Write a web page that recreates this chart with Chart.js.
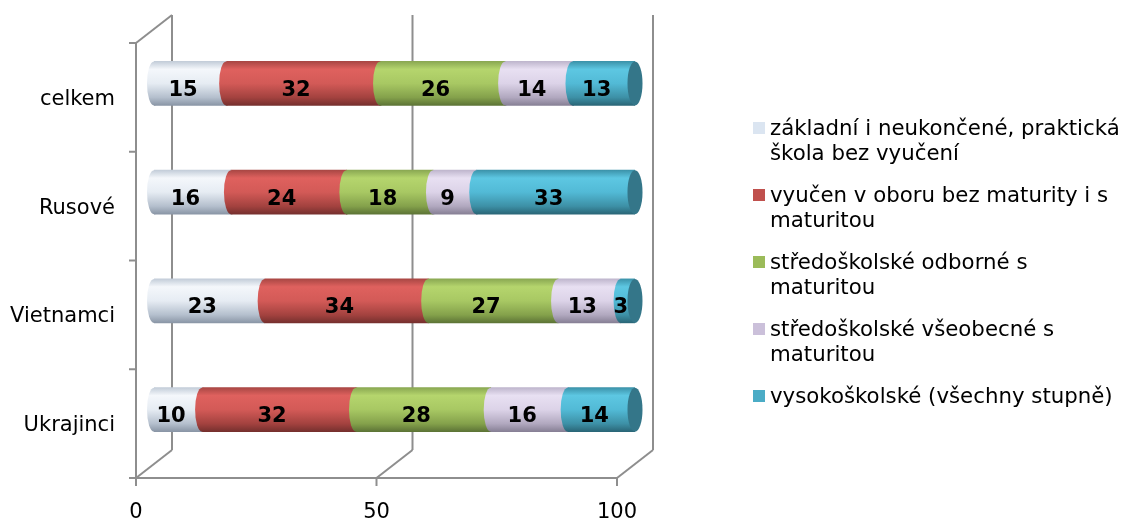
<!DOCTYPE html>
<html>
<head>
<meta charset="utf-8">
<script src="https://cdn.jsdelivr.net/npm/chart.js@4/dist/chart.umd.min.js"></script>
<style>
  html, body { margin: 0; padding: 0; background: #fff; }
  #wrap { position: relative; width: 1125px; height: 522px; overflow: hidden; }
  #legend {
    position: absolute; left: 753px; top: 116px;
    font-family: 'DejaVu Sans', Verdana, sans-serif;
    font-size: 21.3px; line-height: 24.5px; color: #000;
  }
  .item { position: relative; padding-left: 17px; width: 360px; margin-bottom: 18px; white-space: normal; }
  .sw { position: absolute; left: 0; top: 6px; width: 12px; height: 12px; }
</style>
</head>
<body>
<div id="wrap">
  <canvas id="c" width="1125" height="522"></canvas>
  <div id="legend"></div>
</div>
<script>
// Education structure by group (percent of each group)
const categories = ['celkem', 'Rusové', 'Vietnamci', 'Ukrajinci'];
const seriesNames = [
  'základní i neukončené, praktická škola bez vyučení',
  'vyučen v oboru bez maturity i s maturitou',
  'středoškolské odborné s maturitou',
  'středoškolské všeobecné s maturitou',
  'vysokoškolské (všechny stupně)'
];
const zakladni      = [15, 16, 23, 10];
const vyucen        = [32, 24, 34, 32];
const odborne       = [26, 18, 27, 28];
const vseobecne     = [14,  9, 13, 16];
const vysokoskolske = [13, 33,  3, 14];
const xTicks = [0, 50, 100];

const seriesValues = [zakladni, vyucen, odborne, vseobecne, vysokoskolske];

// flat swatch colours and cylinder shading (top -> bottom)
const flatColors = ['#dbe5f1', '#c0504d', '#9bbb59', '#cbc0da', '#4bacc6'];
const shadeStops = [
  [[0, '#c3cdd9'], [0.18, '#f4f7fb'], [0.5, '#e6ecf3'], [0.82, '#b4bfcd'], [1, '#8a96a6']],
  [[0, '#a94744'], [0.18, '#df615e'], [0.5, '#d35a57'], [0.82, '#a3423f'], [1, '#76302e']],
  [[0, '#8aa852'], [0.18, '#b5d56d'], [0.5, '#a8c863'], [0.82, '#84a14b'], [1, '#5d7436']],
  [[0, '#bfb6cd'], [0.18, '#e8e0f2'], [0.5, '#dcd3e8'], [0.82, '#b1a8bf'], [1, '#878095']],
  [[0, '#3c93aa'], [0.18, '#5dc7e2'], [0.5, '#52bad6'], [0.82, '#3d90a6'], [1, '#2a6677']]
];
const capColor = '#347689';
const frameColor = '#8e8e8e';
const BAR_H = 44;
const CAP_R = 7;
// depth offsets of the front and back planes relative to the bar plane
const FRONT = { dx: -18, dy: 14 };
const BACK  = { dx: 18,  dy: -14 };

function cylinderFill(ctx, stops, yc, h) {
  const g = ctx.createLinearGradient(0, yc - h / 2, 0, yc + h / 2);
  stops.forEach(([o, c]) => g.addColorStop(o, c));
  return g;
}

const datasets = seriesValues.map((vals, i) => ({
  label: seriesNames[i],
  data: vals,
  barThickness: BAR_H,
  borderWidth: 0,
  borderSkipped: false,
  backgroundColor: (c) => {
    const ch = c.chart;
    const ys = ch.scales && ch.scales.y;
    if (!ch.chartArea || !ys) return flatColors[i];
    return cylinderFill(ch.ctx, shadeStops[i], ys.getPixelForValue(c.dataIndex), BAR_H);
  }
}));

const frame3d = {
  id: 'frame3d',
  beforeDatasetsDraw(chart) {
    const ctx = chart.ctx, xs = chart.scales.x, ys = chart.scales.y;
    const n = categories.length;
    const edges = [];
    for (let k = 0; k <= n; k++) {
      if (k === 0) edges.push(ys.top);
      else if (k === n) edges.push(ys.bottom);
      else edges.push((ys.getPixelForValue(k - 1) + ys.getPixelForValue(k)) / 2);
    }
    const x0 = xs.getPixelForValue(xTicks[0]);
    const xEnd = xs.getPixelForValue(xTicks[xTicks.length - 1]);
    ctx.save();
    ctx.strokeStyle = frameColor;
    ctx.lineWidth = 2;
    ctx.lineCap = 'butt';
    const line = (a, b, c, d) => { ctx.beginPath(); ctx.moveTo(a, b); ctx.lineTo(c, d); ctx.stroke(); };
    // back wall gridlines
    xTicks.forEach(v => {
      const x = xs.getPixelForValue(v) + BACK.dx;
      line(x, ys.top + BACK.dy, x, ys.bottom + BACK.dy);
    });
    // left wall: front edge, top diagonal, category ticks
    line(x0 + FRONT.dx, ys.top + FRONT.dy, x0 + FRONT.dx, ys.bottom + FRONT.dy + 1);
    line(x0 + FRONT.dx, ys.top + FRONT.dy, x0 + BACK.dx, ys.top + BACK.dy);
    edges.forEach(e => line(x0 + FRONT.dx - 7, e + FRONT.dy, x0 + FRONT.dx, e + FRONT.dy));
    // floor: front edge, depth diagonals, value ticks
    line(x0 + FRONT.dx - 1, ys.bottom + FRONT.dy, xEnd + FRONT.dx, ys.bottom + FRONT.dy);
    xTicks.forEach(v => {
      const x = xs.getPixelForValue(v);
      line(x + FRONT.dx, ys.bottom + FRONT.dy, x + BACK.dx, ys.bottom + BACK.dy);
      line(x + FRONT.dx, ys.bottom + FRONT.dy, x + FRONT.dx, ys.bottom + FRONT.dy + 8);
    });
    ctx.restore();
  },
  afterDatasetsDraw(chart) {
    const ctx = chart.ctx;
    const nds = chart.data.datasets.length;
    ctx.save();
    // rounded starts of each cylinder segment
    for (let di = 0; di < nds; di++) {
      chart.getDatasetMeta(di).data.forEach((bar) => {
        const p = bar.getProps(['x', 'y', 'base', 'height'], true);
        const h2 = p.height / 2;
        ctx.beginPath();
        ctx.ellipse(p.base, p.y, CAP_R, h2, 0, Math.PI / 2, Math.PI * 1.5);
        ctx.lineTo(p.base + 1.5, p.y - h2);
        ctx.lineTo(p.base + 1.5, p.y + h2);
        ctx.closePath();
        ctx.fillStyle = cylinderFill(ctx, shadeStops[di], p.y, p.height);
        ctx.fill();
      });
    }
    // end caps
    chart.getDatasetMeta(nds - 1).data.forEach((bar) => {
      const p = bar.getProps(['x', 'y', 'height'], true);
      ctx.beginPath();
      ctx.ellipse(p.x, p.y, CAP_R + 0.5, p.height / 2, 0, 0, Math.PI * 2);
      ctx.fillStyle = capColor;
      ctx.fill();
    });
    // value labels
    ctx.font = 'bold 21px "DejaVu Sans", Verdana, sans-serif';
    ctx.fillStyle = '#000';
    ctx.textAlign = 'center';
    ctx.textBaseline = 'middle';
    for (let di = 0; di < nds; di++) {
      const vals = chart.data.datasets[di].data;
      chart.getDatasetMeta(di).data.forEach((bar, j) => {
        const p = bar.getProps(['x', 'y', 'base'], true);
        ctx.fillText(String(vals[j]), (p.base + p.x) / 2 - CAP_R, p.y + 7);
      });
    }
    ctx.restore();
  }
};

Chart.defaults.font.family = '"DejaVu Sans", Verdana, sans-serif';
Chart.defaults.color = '#000';

new Chart(document.getElementById('c'), {
  type: 'bar',
  data: { labels: categories, datasets },
  options: {
    indexAxis: 'y',
    responsive: false,
    animation: false,
    events: [],
    layout: { padding: { top: 29, right: 490, bottom: 0, left: 0 } },
    plugins: { legend: { display: false }, tooltip: { enabled: false } },
    scales: {
      x: {
        stacked: true,
        min: 0, max: 100,
        afterBuildTicks: (s) => { s.ticks = xTicks.map(v => ({ value: v })); },
        afterFit: (s) => { s.height = 58; s.paddingLeft = 0; s.paddingRight = 0; },
        grid: { display: false, drawTicks: false, tickLength: 0 },
        border: { display: false },
        ticks: { font: { size: 21 }, padding: 36, labelOffset: FRONT.dx, maxRotation: 0, color: '#000' }
      },
      y: {
        stacked: true,
        afterFit: (s) => { s.width = 154; s.paddingTop = 0; s.paddingBottom = 0; },
        grid: { display: false, drawTicks: false, tickLength: 0 },
        border: { display: false },
        ticks: { font: { size: 21 }, padding: 39, labelOffset: FRONT.dy + 2, color: '#000' }
      }
    }
  },
  plugins: [frame3d]
});

// legend
const legendEl = document.getElementById('legend');
seriesNames.forEach((name, i) => {
  const item = document.createElement('div');
  item.className = 'item';
  const sw = document.createElement('span');
  sw.className = 'sw';
  sw.style.background = flatColors[i];
  item.appendChild(sw);
  item.appendChild(document.createTextNode(name));
  legendEl.appendChild(item);
});
</script>
</body>
</html>
